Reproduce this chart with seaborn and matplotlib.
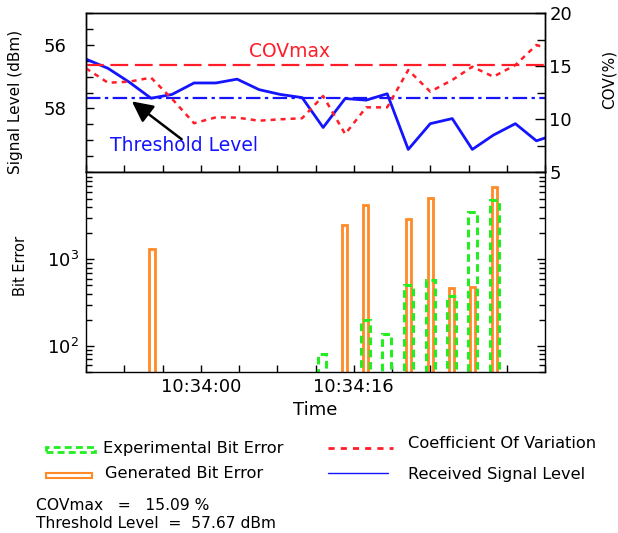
import matplotlib
matplotlib.use("Agg")
import numpy as np
import pandas as pd
import matplotlib.pyplot as plt
import seaborn as sns
from matplotlib.patches import Rectangle
from matplotlib.lines import Line2D
from matplotlib.ticker import FixedLocator, FixedFormatter, LogLocator, NullFormatter

# ---------------- data (seconds after 10:33:48) ----------------
time_s = [0.0, 2.3, 4.5, 6.8, 9.0, 11.3, 13.6, 15.8, 18.1, 20.3, 22.6, 24.8,
          27.1, 29.3, 31.5, 33.7, 36.0, 38.3, 40.4, 42.6, 44.9, 47.1, 49.4]
signal_dbm = [56.45, 56.74, 57.17, 57.68, 57.56, 57.20, 57.20, 57.08, 57.41,
              57.56, 57.66, 58.60, 57.69, 57.74, 57.54, 59.29, 58.48, 58.32,
              59.29, 58.84, 58.48, 59.02, 58.79]
cov_pct = [14.78, 13.42, 13.52, 13.90, 11.90, 9.60, 10.16, 10.13, 9.84, 9.97,
           10.07, 12.17, 8.58, 11.10, 11.10, 14.62, 12.58, 13.68, 14.93, 13.99,
           15.09, 16.98, 16.36]
gen_time = [6.9, 27.0, 29.2, 33.7, 36.0, 38.2, 40.4, 42.7]
gen_err = [1300, 2500, 4250, 2920, 5120, 460, 480, 6800]
exp_time = [24.7, 29.2, 31.4, 33.7, 36.0, 38.2, 40.4, 42.7]
exp_err = [80, 200, 137, 500, 570, 380, 3550, 4850]
cov_max = 15.09
threshold = 57.67
xtick_pos = [0, 4, 8, 12, 16, 20, 24, 28, 32, 36, 40, 44, 48]
xtick_lab = ["", "", "", "10:34:00", "", "", "", "10:34:16", "", "", "", "", ""]

BLUE = "#1414ff"
RED = "#ff1e28"
ORANGE = "#ff8a26"
GREEN = "#22ee22"

sns.set_theme(style="white")
plt.rcParams["font.family"] = ["DejaVu Sans"]
plt.rcParams["axes.edgecolor"] = "black"
plt.rcParams["axes.linewidth"] = 1.0
plt.rcParams["xtick.direction"] = "in"
plt.rcParams["ytick.direction"] = "in"
plt.rcParams["text.color"] = "black"
plt.rcParams["axes.labelcolor"] = "black"
plt.rcParams["xtick.color"] = "black"
plt.rcParams["ytick.color"] = "black"
plt.rcParams["xtick.labelcolor"] = "black"
plt.rcParams["ytick.labelcolor"] = "black"

W, H = 618, 533
fig = plt.figure(figsize=(W / 100, H / 100), dpi=100)

def fx(px):
    return px / W

def fy(py):
    return 1 - py / H

ax_top = fig.add_axes([fx(86), fy(172), fx(545) - fx(86), fy(13) - fy(172)])
ax_bot = fig.add_axes([fx(86), fy(372), fx(545) - fx(86), fy(172) - fy(372)], sharex=ax_top)
ax_cov = ax_top.twinx()

df = pd.DataFrame({"t": time_s, "sig": signal_dbm, "cov": cov_pct})

# ---------------- top panel ----------------
sns.lineplot(data=df, x="t", y="sig", ax=ax_top, color=BLUE, lw=2.0)
ax_top.axhline(threshold, color=BLUE, lw=1.6, dashes=(6.5, 2, 1.5, 2))
sns.lineplot(data=df, x="t", y="cov", ax=ax_cov, color=RED, lw=1.8)
ax_cov.lines[0].set_dashes((2, 2))
ax_cov.axhline(cov_max, color=RED, lw=1.6, dashes=(8, 3))

ax_top.set_xlim(0, 48)
ax_top.set_ylim(60, 55)
ax_cov.set_ylim(5, 20)
ax_top.set_yticks([56, 58])
ax_top.set_yticks(np.arange(55, 60.01, 0.5), minor=True)
ax_cov.set_yticks([5, 10, 15, 20])
ax_cov.set_yticks(np.arange(5, 20.01, 2.5), minor=True)
ax_top.xaxis.set_major_locator(FixedLocator(xtick_pos))
ax_top.tick_params(axis="x", which="both", bottom=True, top=False, labelbottom=False,
                   length=5, width=1)
ax_top.tick_params(axis="y", which="major", left=True, right=False, length=6, width=1,
                   labelsize=13, pad=14)
ax_top.tick_params(axis="y", which="minor", left=True, right=False, length=5, width=1)
ax_cov.tick_params(axis="y", which="major", right=True, length=7, width=1,
                   labelsize=13, pad=3)
ax_cov.tick_params(axis="y", which="minor", right=True, length=6, width=1)
ax_top.set_xlabel("")
ax_top.set_ylabel("Signal Level (dBm)", fontsize=11)
ax_top.yaxis.set_label_coords(-0.137, 0.44)
ax_cov.set_ylabel("COV(%)", fontsize=11)
ax_cov.yaxis.set_label_coords(1.124, 0.58)

ax_top.text(21.3, 56.22, "COVmax", color=RED, fontsize=13.5, ha="center", va="center")
ax_top.text(10.25, 59.16, "Threshold Level", color=BLUE, fontsize=13.5,
            ha="center", va="center")
ax_top.annotate("", xy=(4.8, 57.78), xytext=(10.0, 58.97),
                arrowprops=dict(arrowstyle="-|>,head_length=0.9,head_width=0.45",
                                color="black", lw=1.8, mutation_scale=14,
                                shrinkA=0, shrinkB=0))

# ---------------- bottom panel ----------------
ax_bot.set_yscale("log")
ax_bot.bar(gen_time, gen_err, width=0.55, bottom=1, fill=False,
           edgecolor=ORANGE, lw=2.0)
ax_bot.bar(exp_time, exp_err, width=0.9, bottom=1, fill=False,
           edgecolor=GREEN, lw=2.2, linestyle=(0, (2.5, 1.5)))
ax_bot.set_ylim(50, 1.02e4)
ax_bot.set_yticks([100, 1000])
ax_bot.set_yticklabels([r"$10^2$", r"$10^3$"])
ax_bot.yaxis.set_minor_locator(LogLocator(base=10, subs=np.arange(2, 10)))
ax_bot.yaxis.set_minor_formatter(NullFormatter())
ax_bot.xaxis.set_major_locator(FixedLocator(xtick_pos))
ax_bot.xaxis.set_major_formatter(FixedFormatter(xtick_lab))
ax_bot.tick_params(axis="x", which="both", bottom=True, top=False, length=5, width=1,
                   labelsize=13, pad=4)
ax_bot.tick_params(axis="y", which="major", left=True, right=True, length=6, width=1,
                   labelsize=13, pad=5)
ax_bot.tick_params(axis="y", which="minor", left=True, right=True, length=4, width=1)
ax_bot.set_xlabel("Time", fontsize=13, labelpad=4)
ax_bot.set_ylabel("Bit Error", fontsize=10.5)
ax_bot.yaxis.set_label_coords(-0.126, 0.528)
ax_top.set_xlim(0, 48)

for a in (ax_top, ax_bot, ax_cov):
    for s in a.spines.values():
        s.set_color("black")
        s.set_linewidth(1.0)

# ---------------- custom legend ----------------
fig.add_artist(Rectangle((fx(46), fy(452)), fx(95) - fx(46), fy(447) - fy(452),
                         transform=fig.transFigure, fill=False, edgecolor=GREEN,
                         lw=2.0, linestyle=(0, (2.5, 1.5))))
fig.add_artist(Rectangle((fx(46), fy(478)), fx(92) - fx(46), fy(473) - fy(478),
                         transform=fig.transFigure, fill=False, edgecolor=ORANGE,
                         lw=1.5))
fig.add_artist(Line2D([fx(328), fx(393)], [fy(448), fy(448)], transform=fig.transFigure,
                      color=RED, lw=2.0, dashes=(2.2, 2.2)))
fig.add_artist(Line2D([fx(328), fx(388)], [fy(473), fy(473)], transform=fig.transFigure,
                      color=BLUE, lw=1.0))
leg_fs = 11.7
fig.text(fx(103), fy(448), "Experimental Bit Error", fontsize=leg_fs, va="center", ha="left")
fig.text(fx(105), fy(473), "Generated Bit Error", fontsize=leg_fs, va="center", ha="left")
fig.text(fx(408), fy(443), "Coefficient Of Variation", fontsize=leg_fs, va="center", ha="left")
fig.text(fx(408), fy(475), "Received Signal Level", fontsize=leg_fs, va="center", ha="left")
fig.text(fx(36), fy(505), "COVmax   =   15.09 %", fontsize=11.2, va="center", ha="left")
fig.text(fx(36), fy(524), "Threshold Level  =  57.67 dBm", fontsize=11.2, va="center", ha="left")

fig.savefig("out.png", dpi=100)
